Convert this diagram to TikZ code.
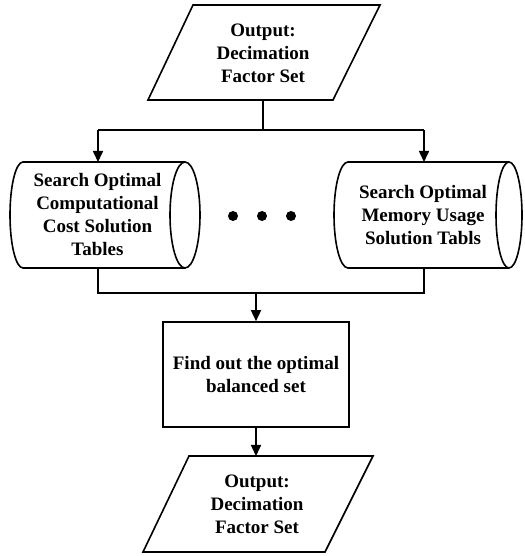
\documentclass[tikz,border=0pt]{standalone}
\usepackage{fontspec}
\setmainfont{Liberation Serif}
\usetikzlibrary{arrows.meta}
\begin{document}
\begin{tikzpicture}[x=1pt,y=1pt,line width=1.6pt,line join=miter,
  lbl/.style={font=\fontsize{19}{23}\selectfont\bfseries,align=center,inner sep=0pt},
  arr/.style={-{Triangle[length=11pt,width=10pt]}},
  dot/.style={circle,fill,minimum size=10pt,inner sep=0pt}]
\useasboundingbox (0,0) rectangle (524,556);
% top parallelogram
\coordinate (t1) at (193,551);
\coordinate (t2) at (380,551);
\coordinate (t3) at (333,456);
\coordinate (t4) at (148,456);
\draw (t1) -- (t2) -- (t3) -- (t4) -- cycle;
\node[lbl] (top) at (263,502.5) {Output:\\Decimation\\Factor Set};
\coordinate (topS) at (263,456);
\coordinate (split) at (263,426);
\coordinate (sl) at (98,426);
\coordinate (sr) at (424,426);
\coordinate (cylLN) at (98,394);
\coordinate (cylRN) at (424,394);
\draw (topS) -- (split);
\draw (sl) -- (sr);
\draw[arr] (sl) -- (cylLN);
\draw[arr] (sr) -- (cylRN);
% left cylinder
\draw (185,394) -- (23,394) arc[start angle=90,end angle=270,x radius=13,y radius=53] -- (185,288);
\draw (185,341) ellipse[x radius=15,y radius=53];
\node[lbl] (cl) at (97.5,341) {Search Optimal\\Computational\\Cost Solution\\Tables};
% right cylinder
\draw (509,394) -- (348,394) arc[start angle=90,end angle=270,x radius=14,y radius=53] -- (509,288);
\draw (509,341) ellipse[x radius=13,y radius=53];
\node[lbl] (cr) at (423,341) {Search Optimal\\Memory Usage\\Solution Tabls};
% dots
\node[dot] (d1) at (233,340) {};
\node[dot] (d2) at (262,340) {};
\node[dot] (d3) at (291,340) {};
% merge
\coordinate (cylLS) at (98,288);
\coordinate (cylRS) at (424,288);
\coordinate (jl) at (98,263);
\coordinate (jr) at (424,263);
\coordinate (jm) at (256,263);
\draw (cylLS) -- (jl) -- (jr) -- (cylRS);
\node[draw,minimum width=186pt,minimum height=105pt,lbl,inner sep=0pt] (box) at (256,181.5) {Find out the optimal\\balanced set};
\draw[arr] (jm) -- (box.north);
% bottom parallelogram
\coordinate (b1) at (189,100);
\coordinate (b2) at (373,100);
\coordinate (b3) at (325,4);
\coordinate (b4) at (143,4);
\draw (b1) -- (b2) -- (b3) -- (b4) -- cycle;
\node[lbl] (bot) at (257,52) {Output:\\Decimation\\Factor Set};
\coordinate (botN) at (256,100);
\draw[arr] (box.south) -- (botN);
\end{tikzpicture}
\end{document}
